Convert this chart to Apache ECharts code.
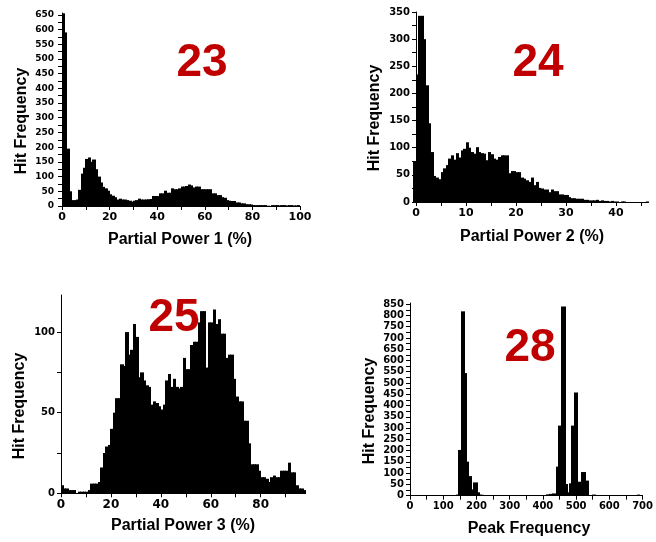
<!DOCTYPE html>
<html>
<head>
<meta charset="utf-8">
<script src="https://cdn.jsdelivr.net/npm/echarts@6/dist/echarts.min.js"></script>
<style>html,body{margin:0;padding:0;background:#fff}#c{width:656px;height:542px}</style>
</head>
<body>
<div id="c"></div>
<script>
// ---- Panel 23: Partial Power 1 (%) histogram, 1% bins from 0 ----
const pp1BinStart = 0, pp1BinWidth = 1;
const pp1Counts = [655,590,195,50,20,20,22,55,110,130,160,165,150,158,125,100,80,65,60,52,
  40,35,30,22,25,22,22,20,18,15,18,20,25,22,22,22,23,24,34,34,
  34,43,43,52,45,45,60,57,57,60,66,66,68,73,70,63,66,66,57,57,
  57,57,57,43,43,37,37,30,28,20,18,17,17,12,12,9,9,6,6,5,
  3,3,3,3,3,3,1,0,3,3,3,2,3,3,2,3,3,2,2,3];
const pp1XLabels = [0,20,40,60,80,100];
const pp1YLabels = [0,50,100,150,200,250,300,350,400,450,500,550,600,650];

// ---- Panel 24: Partial Power 2 (%) histogram, 0.5% bins from -0.5 ----
const pp2BinStart = -0.5, pp2BinWidth = 0.5;
const pp2Counts = [75,235,343,343,300,215,145,92,48,45,42,55,62,68,80,86,78,90,82,95,
  98,110,100,92,89,101,92,90,89,77,92,88,80,78,83,86,86,86,53,57,
  57,55,55,45,43,40,37,45,31,37,26,25,23,23,18,23,20,20,14,14,
  13,13,9,7,7,6,6,6,4,4,3,3,3,4,2,3,2,2,1,2,
  1,1,0,1,1,0,0,0,0,0,0,0,0,1];
const pp2XLabels = [0,10,20,30,40];
const pp2YLabels = [0,50,100,150,200,250,300,350];

// ---- Panel 25: Partial Power 3 (%) histogram, 1% bins from 0 ----
const pp3BinStart = 0, pp3BinWidth = 1;
const pp3Counts = [5,3,3,2,2,2,0,1,1,1,1,2,6,6,6,7,16,25,29,30,
  40,50,59,59,80,79,100,86,89,105,97,72,75,70,67,66,55,57,56,54,
  52,55,70,74,66,71,66,65,66,84,77,77,92,94,94,106,113,113,78,106,
  106,114,105,108,99,99,84,86,86,71,60,57,57,45,45,31,18,18,18,14,
  10,10,9,7,10,11,10,10,14,14,14,19,13,13,5,3,3,2];
const pp3XLabels = [0,20,40,60,80];
const pp3YLabels = [0,50,100];

// ---- Panel 28: Peak Frequency histogram (bin edges) ----
const peakLeft  = [140,147,155,164,169,176,186,192,202,208,215,250,258,300,310,330,385,393,410,420,430,440,447,455,467,474,479,487,496,505,512,517,527,550,685];
const peakRight = [147,155,164,169,176,186,192,202,208,215,222,258,266,308,318,338,393,400,420,430,440,447,455,467,474,479,487,496,505,512,517,527,537,558,692];
const peakCount = [5,203,818,544,151,87,28,59,15,5,4,3,3,3,3,3,3,3,6,8,10,129,311,840,52,15,55,311,458,62,10,105,67,5,5];
const peakXLabels = [0,100,200,300,400,500,600,700];
const peakYLabels = [0,50,100,150,200,250,300,350,400,450,500,550,600,650,700,750,800,850];

// panel tags
const panelTags = ['23','24','25','28'];
const xTitles = ['Partial Power 1 (%)','Partial Power 2 (%)','Partial Power 3 (%)','Peak Frequency'];
const yTitle = 'Hit Frequency';

function binsFromStart(start, width, counts){
  return counts.map((c,i)=>[start+i*width, start+(i+1)*width, c]);
}
function range(a,b,s){const r=[];for(let v=a;v<=b+1e-9;v+=s)r.push(+v.toFixed(6));return r;}

const TICKFONT = '"DejaVu Sans", sans-serif';
const TITLEFONT = '"Liberation Sans", Arial, sans-serif';

function xAxisCfg(i, min, max, labels, ticks, fs){
  return {type:'value', gridIndex:i, min:min, max:max,
    axisLine:{show:true, onZero:false, lineStyle:{color:'#000', width:1}},
    axisTick:{show:true, inside:false, length:4, customValues:ticks, lineStyle:{color:'#000'}},
    axisLabel:{customValues:labels, fontFamily:TICKFONT, fontWeight:'bold', fontSize:fs, color:'#000', margin:6},
    splitLine:{show:false}};
}
function yAxisCfg(i, min, max, labels, ticks, fs, margin){
  return {type:'value', gridIndex:i, min:min, max:max,
    axisLine:{show:true, onZero:false, lineStyle:{color:'#000', width:1}},
    axisTick:{show:true, inside:false, length:4, customValues:ticks, lineStyle:{color:'#000'}},
    axisLabel:{customValues:labels, fontFamily:TICKFONT, fontWeight:'bold', fontSize:fs, color:'#000', margin:margin},
    splitLine:{show:false}};
}
function hist(i, items){
  return {type:'custom', xAxisIndex:i, yAxisIndex:i, clip:false, data:items,
    encode:{x:[0,1], y:2},
    renderItem:function(params, api){
      const p0 = api.coord([api.value(0), api.value(2)]);
      const p1 = api.coord([api.value(1), 0]);
      const xa = Math.floor(p0[0]), xb = Math.ceil(p1[0]);
      return {type:'rect', shape:{x:xa, y:p0[1], width:xb-xa, height:p1[1]-p0[1]},
        style:{fill:'#000'}};
    }};
}

const grids = [
  {left:62, top:13, width:238, height:193},
  {left:416, top:12, width:232.5, height:190},
  {left:61, top:295, width:244.6, height:198.3},
  {left:410, top:303, width:235, height:192.7}
];

const peakItems = peakLeft.map((l,i)=>[l, peakRight[i], peakCount[i]]);

const titleText = (x,y,t,rot)=>({type:'text', x:x, y:y, rotation:rot||0,
  style:{text:t, font:'bold 16px '+TITLEFONT, fill:'#000', align:'center', verticalAlign:'middle'}});
const tagText = (x,y,t)=>({type:'text', x:x, y:y,
  style:{text:t, font:'bold 46px '+TITLEFONT, fill:'#c00000', align:'center', verticalAlign:'middle'}});

const option = {
  animation:false,
  backgroundColor:'#fff',
  grid: grids,
  xAxis:[
    xAxisCfg(0, 0, 100, pp1XLabels, range(0,100,10), 11),
    xAxisCfg(1, 0, 46.5, pp2XLabels, range(0,45,5), 11),
    xAxisCfg(2, 0, 98, pp3XLabels, range(0,90,10), 12),
    xAxisCfg(3, 0, 700, peakXLabels, range(0,700,50), 10)
  ],
  yAxis:[
    yAxisCfg(0, 0, 656, pp1YLabels, range(0,650,25), 9, 8),
    yAxisCfg(1, 0, 350, pp2YLabels, range(0,350,25), 10, 6),
    yAxisCfg(2, 0, 123, pp3YLabels, range(0,100,25), 10, 6),
    yAxisCfg(3, 0, 855, peakYLabels, range(0,850,25), 10, 6)
  ],
  series:[
    hist(0, binsFromStart(pp1BinStart, pp1BinWidth, pp1Counts)),
    hist(1, binsFromStart(pp2BinStart, pp2BinWidth, pp2Counts)),
    hist(2, binsFromStart(pp3BinStart, pp3BinWidth, pp3Counts)),
    hist(3, peakItems)
  ],
  graphic:[
    titleText(180, 240, xTitles[0]),
    titleText(532, 237, xTitles[1]),
    titleText(183, 526, xTitles[2]),
    titleText(529, 529, xTitles[3]),
    titleText(22, 121, yTitle, Math.PI/2),
    titleText(375, 118, yTitle, Math.PI/2),
    titleText(20, 406, yTitle, Math.PI/2),
    titleText(370, 411, yTitle, Math.PI/2),
    tagText(202, 63, panelTags[0]),
    tagText(538, 63, panelTags[1]),
    tagText(174, 318, panelTags[2]),
    tagText(530, 348, panelTags[3])
  ]
};
const chart = echarts.init(document.getElementById('c'), null, {renderer:'canvas'});
chart.setOption(option);
</script>
</body>
</html>
